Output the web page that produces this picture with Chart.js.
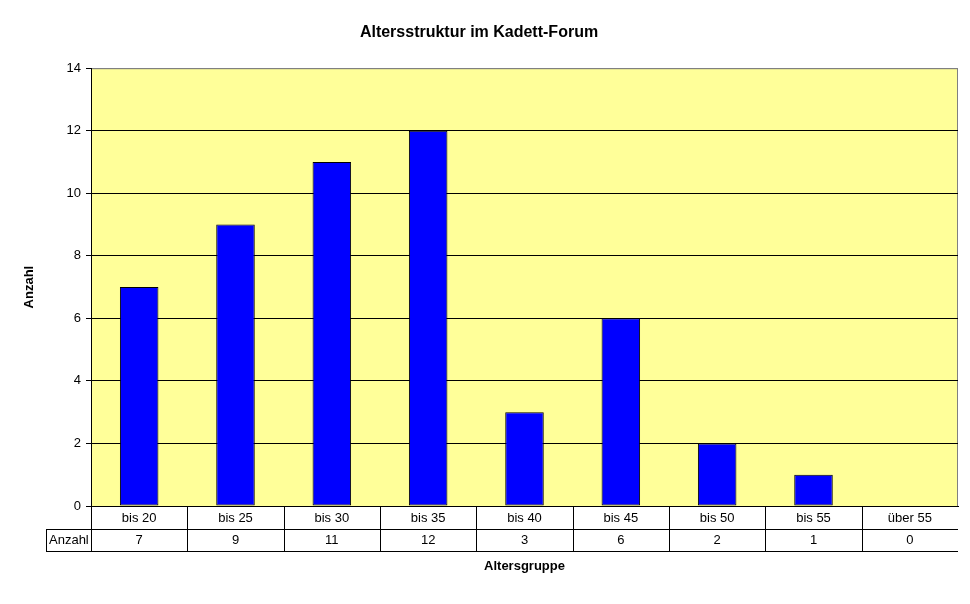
<!DOCTYPE html>
<html>
<head>
<meta charset="utf-8">
<script src="https://cdn.jsdelivr.net/npm/chart.js@4/dist/chart.umd.min.js"></script>
<style>
  html, body { margin: 0; padding: 0; background: #fff; }
  #wrap { width: 970px; height: 604px; }
</style>
</head>
<body>
<div id="wrap"><canvas id="chart" width="970" height="604"></canvas></div>
<script>
const categories = ["bis 20", "bis 25", "bis 30", "bis 35", "bis 40", "bis 45", "bis 50", "bis 55", "über 55"];
const counts = [7, 9, 11, 12, 3, 6, 2, 1, 0];
const seriesName = "Anzahl";
const yTicks = [0, 2, 4, 6, 8, 10, 12, 14];

Chart.defaults.font.family = "'Liberation Sans', Arial, sans-serif";
Chart.defaults.font.size = 13;
Chart.defaults.color = "#000";

// yellow plot area with a grey frame
const plotBackground = {
  id: "plotBackground",
  beforeDraw(chart) {
    const { ctx, chartArea: a } = chart;
    ctx.save();
    ctx.fillStyle = "#FFFF99";
    ctx.fillRect(a.left, a.top, a.right - a.left, a.bottom - a.top);
    ctx.strokeStyle = "#808080";
    ctx.lineWidth = 1;
    ctx.strokeRect(a.left + 0.5, a.top + 0.5, a.right - a.left - 1, a.bottom - a.top);
    ctx.restore();
  },
};

// Excel style data table under the x axis
const dataTable = {
  id: "dataTable",
  afterDraw(chart) {
    const { ctx, chartArea: a } = chart;
    const x = chart.scales.x;
    const half = (x.getPixelForValue(1) - x.getPixelForValue(0)) / 2;
    const rowH = 22.5;
    const y0 = a.bottom;
    const y1 = y0 + rowH;
    const y2 = y1 + rowH;
    const headLeft = 46;

    ctx.save();
    ctx.strokeStyle = "#000";
    ctx.lineWidth = 1;
    ctx.beginPath();
    ctx.moveTo(headLeft, Math.round(y1) + 0.5);
    ctx.lineTo(a.right, Math.round(y1) + 0.5);
    ctx.moveTo(headLeft, Math.round(y2) + 0.5);
    ctx.lineTo(a.right, Math.round(y2) + 0.5);
    ctx.moveTo(headLeft + 0.5, Math.round(y1));
    ctx.lineTo(headLeft + 0.5, Math.round(y2));
    categories.forEach((c, i) => {
      const bx = Math.round(x.getPixelForValue(i) - half) + 0.5;
      ctx.moveTo(bx, y0);
      ctx.lineTo(bx, Math.round(y2));
    });
    ctx.stroke();

    ctx.fillStyle = "#000";
    ctx.font = "13px 'Liberation Sans', Arial, sans-serif";
    ctx.textAlign = "center";
    ctx.textBaseline = "middle";
    categories.forEach((c, i) => {
      const cx = x.getPixelForValue(i);
      ctx.fillText(c, cx, (y0 + y1) / 2 + 1);
      ctx.fillText(String(counts[i]), cx, (y1 + y2) / 2 + 1);
    });
    ctx.textAlign = "left";
    ctx.fillText(seriesName, headLeft + 3, (y1 + y2) / 2 + 1);
    ctx.restore();
  },
};

new Chart(document.getElementById("chart"), {
  type: "bar",
  data: {
    labels: categories,
    datasets: [
      {
        label: seriesName,
        data: counts,
        backgroundColor: "#0000FF",
        borderColor: "#000",
        borderWidth: 1,
        borderSkipped: false,
        categoryPercentage: 1,
        barPercentage: 0.4,
      },
    ],
  },
  options: {
    responsive: false,
    animation: false,
    layout: { padding: { left: 0, right: 12, top: 0, bottom: 0 } },
    plugins: {
      legend: { display: false },
      tooltip: { enabled: false },
      title: {
        display: true,
        text: "Altersstruktur im Kadett-Forum",
        font: { size: 16, weight: "bold" },
        padding: { top: 23, bottom: 26 },
      },
    },
    scales: {
      x: {
        afterFit: (scale) => { scale.height = 98; },
        grid: { display: false },
        border: { display: true, color: "#000" },
        ticks: { display: false },
        title: {
          display: true,
          text: "Altersgruppe",
          font: { size: 13, weight: "bold" },
          padding: { top: 0, bottom: 30 },
        },
      },
      y: {
        min: 0,
        max: 14,
        afterFit: (scale) => { scale.width = 91; },
        afterBuildTicks: (scale) => { scale.ticks = yTicks.map((v) => ({ value: v })); },
        ticks: { stepSize: 2, padding: 5, font: { size: 13 } },
        grid: {
          color: (c) => (c.tick && c.tick.value === 14 ? "#808080" : "#000"),
          tickColor: "#000",
          tickLength: 5,
          lineWidth: 1,
        },
        border: { display: true, color: "#000" },
        title: {
          display: true,
          text: "Anzahl",
          font: { size: 13, weight: "bold" },
          padding: { top: 22, bottom: 0 },
        },
      },
    },
  },
  plugins: [plotBackground, dataTable],
});
</script>
</body>
</html>
